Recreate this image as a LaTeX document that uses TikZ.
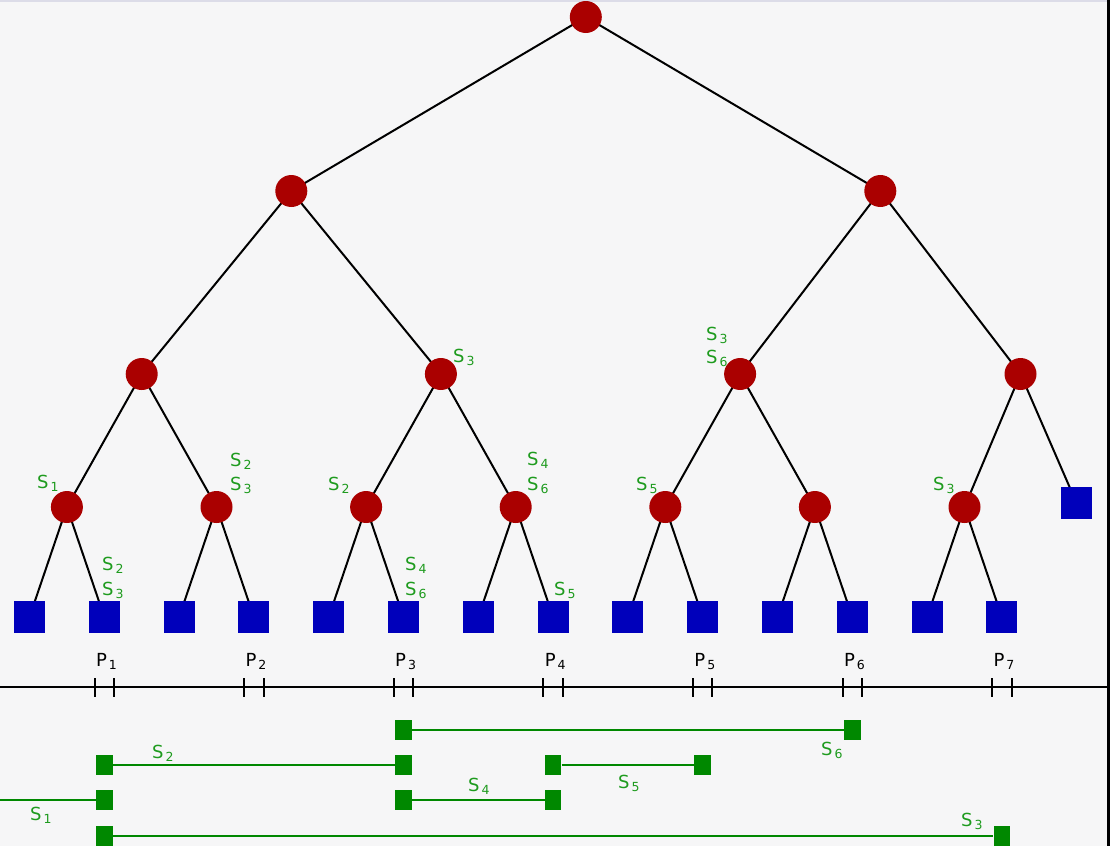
\documentclass[tikz,border=0pt]{standalone}
\usepackage{fontspec}
\setmainfont{DejaVu Sans}
\definecolor{treered}{RGB}{170,0,0}
\definecolor{leafblue}{RGB}{0,0,187}
\definecolor{segg}{RGB}{0,136,0}
\definecolor{labg}{RGB}{30,155,30}
\definecolor{bgc}{RGB}{246,246,247}
\newcommand{\SL}[1]{S\kern2pt\raisebox{-3pt}{\fontsize{12.5}{12.5}\selectfont #1}}
\newcommand{\PL}[1]{P\kern2pt\raisebox{-3pt}{\fontsize{12.5}{12.5}\selectfont #1}}
\tikzset{
  inner/.style={circle, fill=treered, minimum size=32pt, inner sep=0pt},
  leafsq/.style={rectangle, fill=leafblue, minimum width=31pt, minimum height=32pt, inner sep=0pt},
  gsq/.style={rectangle, fill=segg, minimum width=16.5pt, minimum height=20pt, inner sep=0pt},
  edge/.style={draw=black, line width=2pt},
  seg/.style={draw=segg, line width=2pt},
  lab/.style={text=labg, font=\fontsize{18}{18}\selectfont, inner sep=0pt, anchor=base west},
  plab/.style={text=black, font=\fontsize{18}{18}\selectfont, inner sep=0pt, anchor=base west},
  tick/.style={draw=black, line width=2pt}
}
\begin{document}
\begin{tikzpicture}[x=1pt,y=-1pt]
\useasboundingbox (0,0) rectangle (1110,846);
\fill[bgc] (0,0) rectangle (1110,846);
\draw[color={rgb,255:red,220;green,220;blue,232}, line width=1.5pt] (0,0.75) -- (1110,0.75);
% coordinates
\coordinate (r) at (585.8,17);
\coordinate (a1) at (291.3,191);
\coordinate (a2) at (880.3,191);
\coordinate (b1) at (141.7,374);
\coordinate (b2) at (440.9,374);
\coordinate (b3) at (740.1,374);
\coordinate (b4) at (1020.5,374);
\coordinate (c1) at (66.9,507);
\coordinate (c2) at (216.5,507);
\coordinate (c3) at (366.1,507);
\coordinate (c4) at (515.7,507);
\coordinate (c5) at (665.3,507);
\coordinate (c6) at (814.9,507);
\coordinate (c7) at (964.5,507);
\coordinate (c8) at (1076.5,503);
\foreach \k in {1,...,14}{
  \coordinate (l\k) at ({29.5+74.8*(\k-1)},617);
}
% edges
\draw[edge] (r) -- (a1) (r) -- (a2);
\draw[edge] (a1) -- (b1) (a1) -- (b2) (a2) -- (b3) (a2) -- (b4);
\draw[edge] (b1) -- (c1) (b1) -- (c2) (b2) -- (c3) (b2) -- (c4)
            (b3) -- (c5) (b3) -- (c6) (b4) -- (c7) (b4) -- (c8);
\draw[edge] (c1) -- (l1) (c1) -- (l2) (c2) -- (l3) (c2) -- (l4)
            (c3) -- (l5) (c3) -- (l6) (c4) -- (l7) (c4) -- (l8)
            (c5) -- (l9) (c5) -- (l10) (c6) -- (l11) (c6) -- (l12)
            (c7) -- (l13) (c7) -- (l14);
% nodes
\node[inner] (R) at (r) {};
\node[inner] (A1) at (a1) {};
\node[inner] (A2) at (a2) {};
\node[inner] (B1) at (b1) {};
\node[inner] (B2) at (b2) {};
\node[inner] (B3) at (b3) {};
\node[inner] (B4) at (b4) {};
\foreach \k in {1,...,7}{ \node[inner] (C\k) at (c\k) {}; }
\node[leafsq] (C8) at (c8) {};
\foreach \k in {1,...,14}{ \node[leafsq] (L\k) at (l\k) {}; }
% tree labels
\node[lab] (tb2) at (453,362) {\SL{3}};
\node[lab] (tb3a) at (706,340) {\SL{3}};
\node[lab] (tb3b) at (706,363) {\SL{6}};
\node[lab] (tc1) at (37,488) {\SL{1}};
\node[lab] (tc2a) at (230,466) {\SL{2}};
\node[lab] (tc2b) at (230,490) {\SL{3}};
\node[lab] (tc3) at (328,490) {\SL{2}};
\node[lab] (tc4a) at (527,465) {\SL{4}};
\node[lab] (tc4b) at (527,490) {\SL{6}};
\node[lab] (tc5) at (636,490) {\SL{5}};
\node[lab] (tc7) at (933,490) {\SL{3}};
\node[lab] (tl2a) at (102,570) {\SL{2}};
\node[lab] (tl2b) at (102,595) {\SL{3}};
\node[lab] (tl6a) at (405,570) {\SL{4}};
\node[lab] (tl6b) at (405,595) {\SL{6}};
\node[lab] (tl8) at (554,595) {\SL{5}};
% axis
\coordinate (ax0) at (0,687);
\coordinate (ax1) at (1110,687);
\draw[edge] (ax0) -- (ax1);
\foreach \k/\n in {2/1,4/2,6/3,8/4,10/5,12/6,14/7}{
  \pgfmathsetmacro{\xx}{29.5+74.8*(\k-1)}
  \draw[tick] (\xx-9.7,678) -- (\xx-9.7,697);
  \draw[tick] (\xx+9.7,678) -- (\xx+9.7,697);
  \node[plab] (p\n) at (\xx-8.5,666) {\PL{\n}};
}
% segments
\node[gsq] (g1a) at (403.5,730) {};
\node[gsq] (g1b) at (852.3,730) {};
\draw[seg] (g1a) -- (g1b);
\node[gsq] (g2a) at (104.3,765) {};
\node[gsq] (g2b) at (403.5,765) {};
\draw[seg] (g2a) -- (g2b);
\node[gsq] (g5a) at (553.1,765) {};
\node[gsq] (g5b) at (702.7,765) {};
\draw[seg] (g5a) -- (g5b);
\coordinate (g1s) at (0,800);
\node[gsq] (g1e) at (104.3,800) {};
\draw[seg] (g1s) -- (g1e);
\node[gsq] (g4a) at (403.5,800) {};
\node[gsq] (g4b) at (553.1,800) {};
\draw[seg] (g4a) -- (g4b);
\node[gsq] (g3a) at (104.3,836) {};
\node[gsq] (g3b) at (1001.9,836) {};
\draw[seg] (g3a) -- (g3b);
% segment labels
\node[lab] (s6) at (821,755) {\SL{6}};
\node[lab] (s2) at (152,758) {\SL{2}};
\node[lab] (s5) at (618,788) {\SL{5}};
\node[lab] (s1) at (30,820) {\SL{1}};
\node[lab] (s4) at (468,791) {\SL{4}};
\node[lab] (s3) at (961,826) {\SL{3}};
% right border
\draw[black, line width=3pt] (1108.5,0) -- (1108.5,846);
\end{tikzpicture}
\end{document}
